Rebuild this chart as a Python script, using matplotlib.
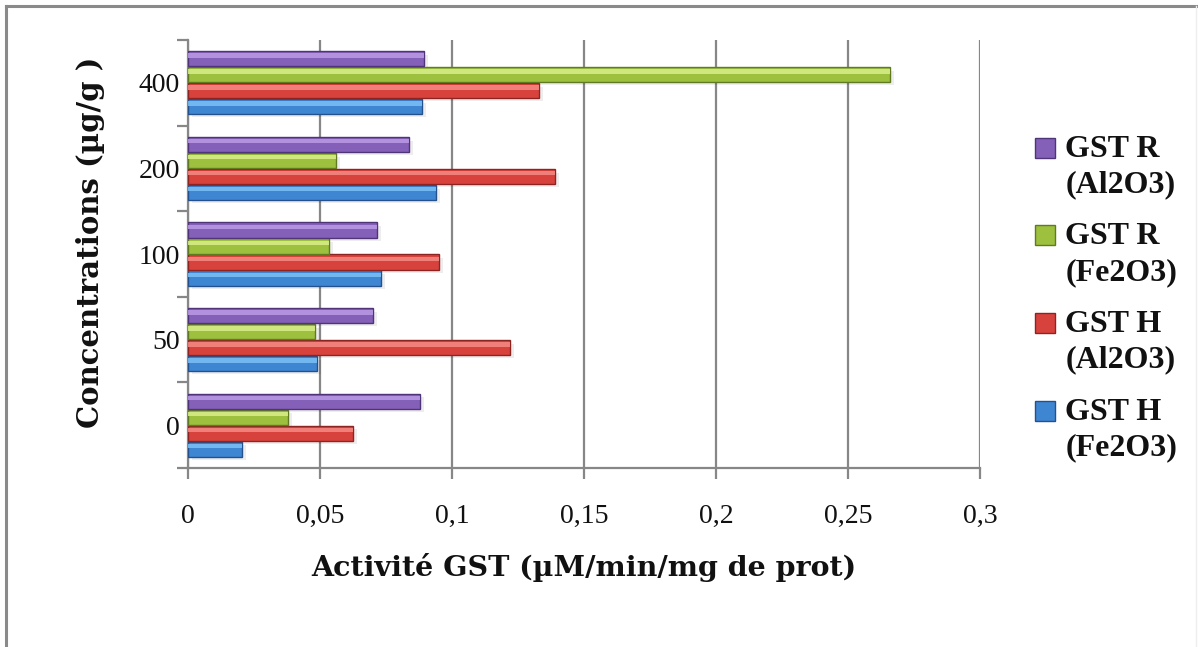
import numpy as np
import matplotlib
matplotlib.use("Agg")
import matplotlib.pyplot as plt
from matplotlib.lines import Line2D
from matplotlib.legend_handler import HandlerLine2D

# =============================================================================
# Data
# =============================================================================

CATEGORIES = ["0", "50", "100", "200", "400"]

GST_H_FE2O3 = [0.0205, 0.049, 0.073, 0.094, 0.0886]
GST_H_AL2O3 = [0.0625, 0.122, 0.095, 0.139, 0.133]
GST_R_FE2O3 = [0.038, 0.048, 0.0534, 0.056, 0.266]
GST_R_AL2O3 = [0.088, 0.070, 0.0716, 0.0837, 0.0894]

SERIES_LABELS = ["GST H\n(Fe2O3)", "GST H\n(Al2O3)", "GST R\n(Fe2O3)", "GST R\n(Al2O3)"]

X_TICKS = [0, 0.05, 0.1, 0.15, 0.2, 0.25, 0.3]
X_TICK_LABELS = ["0", "0,05", "0,1", "0,15", "0,2", "0,25", "0,3"]

# base, light (highlight), dark (edge)
COLORS = [
    ("#3f86d2", "#7cc0f5", "#24508c"),
    ("#d8423d", "#f58a84", "#8c2421"),
    ("#9dc03e", "#d8ef8a", "#5f7a22"),
    ("#8560b8", "#bb9ae6", "#4f3478"),
]

GRID_COLOR = "#878787"
TICK_FONT = "Liberation Serif"
TITLE_FONT = "DejaVu Serif"
TEXT_COLOR = "#111111"


class RaisedHandler(HandlerLine2D):
    """Legend marker aligned with the first line of a two-line label."""

    def create_artists(self, legend, orig_handle, xdescent, ydescent,
                       width, height, fontsize, trans):
        artists = super().create_artists(legend, orig_handle, xdescent, ydescent,
                                         width, height, fontsize, trans)
        for a in artists:
            a.set_ydata(np.asarray(a.get_ydata(), dtype=float) + 0.6 * fontsize)
        return artists


# =============================================================================
# Plot
# =============================================================================

plt.rcParams["font.family"] = [TICK_FONT, "DejaVu Serif"]

fig = plt.figure(figsize=(11.98, 6.47), dpi=100)
ax = fig.add_axes([188 / 1198, 1 - 468 / 647, 792 / 1198, 428 / 647])

series = [GST_H_FE2O3, GST_H_AL2O3, GST_R_FE2O3, GST_R_AL2O3]
y = np.arange(len(CATEGORIES))
h = 0.187

for i, (vals, (base, light, dark)) in enumerate(zip(series, COLORS)):
    pos = y + (i - 1.5) * h
    # soft shadow
    ax.barh(pos - 0.04, vals, height=h * 0.9, left=0.0015, color="#000000",
            alpha=0.07, linewidth=0, zorder=2)
    ax.barh(pos, vals, height=h * 0.96, color=base, edgecolor=dark,
            linewidth=1.0, zorder=3)
    # highlight strip for the cylinder look
    ax.barh(pos + h * 0.2, vals, height=h * 0.28, color=light,
            linewidth=0, alpha=0.85, zorder=4)

ax.set_xlim(0, 0.3)
ax.set_ylim(-0.5, 4.5)

# grid and spines
ax.set_xticks(X_TICKS)
ax.set_xticklabels(X_TICK_LABELS, fontsize=20)
ax.xaxis.grid(True, color=GRID_COLOR, linewidth=1.6, zorder=1)
ax.set_axisbelow(True)
for s in ["top", "right"]:
    ax.spines[s].set_visible(False)
for s in ["left", "bottom"]:
    ax.spines[s].set_color(GRID_COLOR)
    ax.spines[s].set_linewidth(1.6)

ax.tick_params(axis="x", direction="out", length=8, width=1.6,
               color=GRID_COLOR, pad=18, labelcolor=TEXT_COLOR)

ax.set_yticks(y)
ax.set_yticklabels(CATEGORIES, fontsize=20)
ax.set_yticks(np.arange(-0.5, len(CATEGORIES) + 0.5, 1), minor=True)
ax.tick_params(axis="y", which="major", length=0, pad=6, labelcolor=TEXT_COLOR)
ax.tick_params(axis="y", which="minor", direction="out", length=8, width=1.6,
               color=GRID_COLOR)

ax.set_xlabel("Activité GST (µM/min/mg de prot)", fontsize=20.5, family=TITLE_FONT,
              fontweight="bold", color=TEXT_COLOR)
ax.xaxis.set_label_coords(0.5, -0.199)
ax.set_ylabel("Concentrations (µg/g )", fontsize=21, family=TITLE_FONT,
              fontweight="bold", color=TEXT_COLOR)
ax.yaxis.set_label_coords(-0.105, 0.528)

# legend (top entry = last series)
handles = [
    Line2D([], [], linestyle="none", marker="s", markersize=15,
           markerfacecolor=c[0], markeredgecolor=c[2], markeredgewidth=1.0)
    for c in COLORS
]
leg = fig.legend(
    handles[::-1], SERIES_LABELS[::-1],
    loc="upper left", bbox_to_anchor=(1003 / 1198, 1 - 106 / 647),
    frameon=False, handlelength=0.8, handletextpad=0.25,
    labelspacing=0.72,
    prop={"family": TICK_FONT, "weight": "bold", "size": 23},
    handler_map={Line2D: RaisedHandler()},
)
for t in leg.get_texts():
    t.set_color(TEXT_COLOR)
    t.set_linespacing(1.3)

# outer chart frame
fig.add_artist(Line2D([6 / 1198, 6 / 1198], [0, 1 - 6 / 647],
                      color="#8a8a8a", linewidth=2.2))
fig.add_artist(Line2D([6 / 1198, 1196 / 1198], [1 - 6 / 647, 1 - 6 / 647],
                      color="#8a8a8a", linewidth=2.2))
fig.add_artist(Line2D([1196 / 1198, 1196 / 1198], [0, 1 - 6 / 647],
                      color="#eeeeee", linewidth=1.0))

fig.savefig("out.png", dpi=100, facecolor="white")
plt.close(fig)
